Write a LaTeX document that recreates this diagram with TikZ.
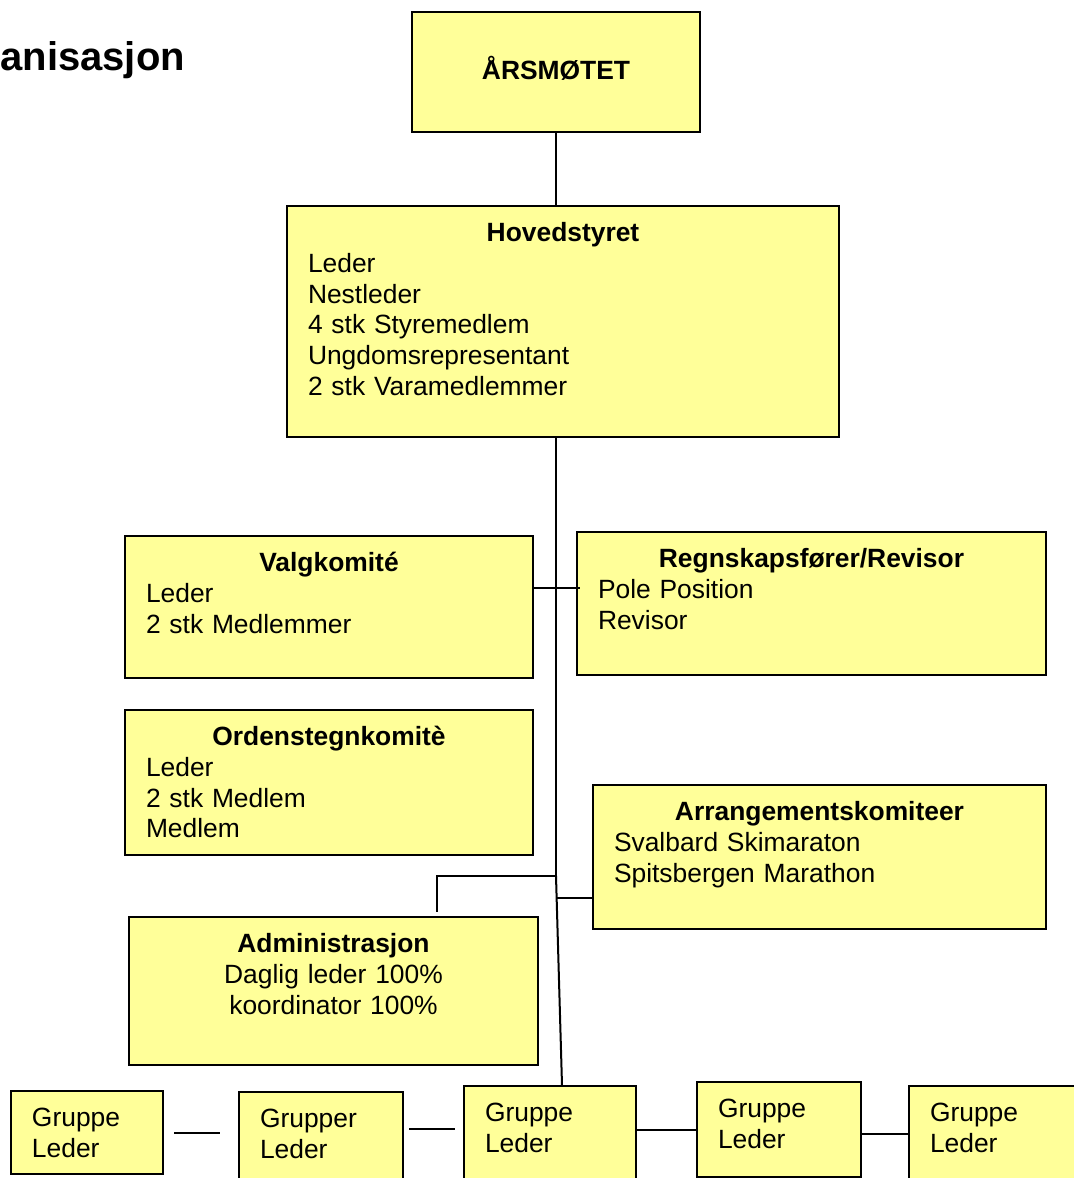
\documentclass[tikz,border=0pt]{standalone}
\usepackage{fontspec}
\setmainfont{Liberation Sans}
\usepackage{xcolor}
\usepackage{tikz}
\usetikzlibrary{calc}

\definecolor{orgyellow}{HTML}{FFFF99}

\begin{document}
\begin{tikzpicture}[x=0.5pt, y=-0.5pt, font=\fontsize{13.2}{15.4}\selectfont]
\tikzstyle{orgbox}=[draw=black, line width=1pt, fill=orgyellow, anchor=north west, inner xsep=10.5pt, inner ysep=7.75pt, text height=10pt, align=left]
\tikzstyle{link}=[draw=black, line width=1pt]

\useasboundingbox (0, 0) rectangle (1074, 1178);

% Title, cut at the left edge
\node[anchor=base west, inner sep=0pt, font=\fontsize{20}{24}\selectfont\bfseries] (title) at (0, 70) {anisasjon};

% Boxes
\node[draw=black, line width=1pt, fill=orgyellow, minimum width=144pt, minimum height=60pt, text depth=4pt, font=\fontsize{13.2}{15.4}\selectfont\bfseries] (aarsmote) at (556, 72) {ÅRSMØTET};

\node[orgbox, text width=255pt, text depth=90pt] (hoved) at (286, 205) {\makebox[\linewidth]{\bfseries Hovedstyret}\\Leder\\Nestleder\\4 stk Styremedlem\\Ungdomsrepresentant\\2 stk Varamedlemmer};

\node[orgbox, text width=183pt, text depth=45.5pt] (valg) at (124, 535) {\makebox[\linewidth]{\bfseries Valgkomité}\\Leder\\2 stk Medlemmer};
\node[orgbox, text width=213.5pt, text depth=46pt] (regnskap) at (576, 531) {\makebox[\linewidth]{\bfseries Regnskapsfører/Revisor}\\Pole Position\\Revisor};
\node[orgbox, text width=183pt, text depth=47pt] (ordens) at (124, 709) {\makebox[\linewidth]{\bfseries Ordenstegnkomitè}\\Leder\\2 stk Medlem\\Medlem};
\node[orgbox, text width=205.5pt, text depth=46.5pt] (arrang) at (592, 784) {\makebox[\linewidth]{\bfseries Arrangementskomiteer}\\Svalbard Skimaraton\\Spitsbergen Marathon};
\node[orgbox, text width=183.5pt, text depth=48.5pt, align=center] (admin) at (128, 916) {\textbf{Administrasjon}\\Daglig leder 100\%\\koordinator 100\%};

\node[orgbox, text width=55pt, text depth=16pt] (g1) at (10, 1090) {Gruppe\\Leder};
\node[orgbox, text width=61pt, text depth=29pt] (g2) at (238, 1091) {Grupper\\Leder};
\node[orgbox, text width=65pt, text depth=27pt] (g3) at (463, 1085) {Gruppe\\Leder};
\node[orgbox, text width=61pt, text depth=22pt] (g4) at (696, 1081) {Gruppe\\Leder};
\node[orgbox, text width=70pt, text depth=22.5pt] (g5) at (908, 1085) {Gruppe\\Leder};

% Lines
\coordinate (split) at (556, 876);
\coordinate (comlink) at (556, 588);
\coordinate (arrlink) at (557, 898);

\path[link] (aarsmote.south) -- (aarsmote.south |- hoved.north);
\path[link] (aarsmote.south |- hoved.south) -- (split);
\path[link] (valg.east |- comlink) -- ($(regnskap.west |- comlink)+(4,0)$);
\path[link] (split) -| ([xshift=51.75pt, yshift=2pt]admin.north);
\path[link] (arrlink) -- (arrang.west |- arrlink);
\path[link] (split) -- ([xshift=6pt]g3.north);

\path[link] ($(g1.east)+(10,0)$) -- ($(g1.east -| g2.west)+(-18,0)$);
\path[link] ($(g3.west -| g2.east)+(5,-9.5)$) -- ($(g3.west)+(-8,-9.5)$);
\path[link] (g4.west -| g3.east) -- (g4.west);
\path[link] (g5.west -| g4.east) -- (g5.west);
\end{tikzpicture}
\end{document}
